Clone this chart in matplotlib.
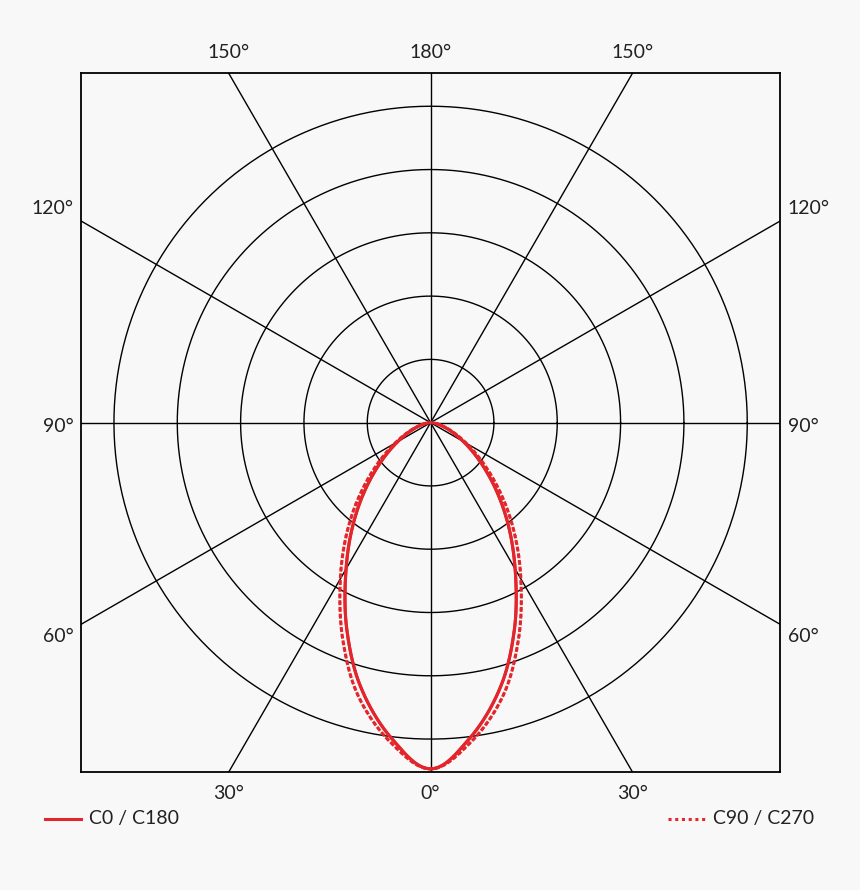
import numpy as np
import matplotlib.pyplot as plt

# gamma angle from nadir (deg) and intensity in ring units
gamma = [0, 7, 15, 22, 30, 40, 50, 60, 70, 80, 90]
c0_c180 = [5.47, 5.03, 4.3, 3.53, 2.67, 1.8, 1.1, 0.6, 0.28, 0.1, 0.0]
c90_c270 = [5.47, 5.1, 4.45, 3.7, 2.85, 1.95, 1.2, 0.65, 0.3, 0.1, 0.0]
rings = [1, 2, 3, 4, 5]
spokes = [0, 30, 60, 90, 120, 150]

BG = "#f8f8f8"
RED = "#e3262b"
LIM = 5.52

fig = plt.figure(figsize=(8.6, 8.9), dpi=100, facecolor=BG)
ax = fig.add_axes([0.0942, 0.1326, 0.813, 0.785])
ax.set_facecolor(BG)
ax.set_xlim(-LIM, LIM)
ax.set_ylim(-LIM, LIM)
ax.set_xticks([])
ax.set_yticks([])
for s in ax.spines.values():
    s.set_linewidth(1.3)
    s.set_color("black")

t = np.linspace(0, 2 * np.pi, 400)
for r in rings:
    ax.plot(r * np.cos(t), r * np.sin(t), color="black", lw=1.0)
for a in spokes:
    th = np.radians(a)
    L = 10
    ax.plot([-L * np.sin(th), L * np.sin(th)], [-L * np.cos(th), L * np.cos(th)],
            color="black", lw=1.0)


def smooth(gs, vs, n=20):
    # Catmull-Rom through the read points, symmetric about gamma 0
    g = np.concatenate([-np.array(gs[1:])[::-1], gs, [100.0]])
    v = np.concatenate([np.array(vs[1:])[::-1], vs, [0.0]])
    out_g, out_v = [], []
    for i in range(1, len(g) - 2):
        u = np.linspace(0, 1, n, endpoint=False)
        for arr, out in ((g, out_g), (v, out_v)):
            p0, p1, p2, p3 = arr[i - 1], arr[i], arr[i + 1], arr[i + 2]
            out.extend(0.5 * (2 * p1 + (-p0 + p2) * u
                              + (2 * p0 - 5 * p1 + 4 * p2 - p3) * u ** 2
                              + (-p0 + 3 * p1 - 3 * p2 + p3) * u ** 3))
    out_g.append(g[-2])
    out_v.append(v[-2])
    return np.array(out_g), np.clip(np.array(out_v), 0, None)


def curve(vals):
    gg, vv = smooth(gamma, vals)
    g = np.radians(gg)
    return vv * np.sin(g), -vv * np.cos(g)


x, y = curve(c90_c270)
ax.plot(x, y, color=RED, lw=2.2, ls=(0, (1, 1.2)))
ax.plot(-x, y, color=RED, lw=2.2, ls=(0, (1, 1.2)))
x, y = curve(c0_c180)
ax.plot(x, y, color=RED, lw=2.2)
ax.plot(-x, y, color=RED, lw=2.2)

fk = dict(fontsize=14, family="Lato", color="#222222")
# top and bottom labels
off = LIM * np.tan(np.radians(30))
for xv, txt in [(-off, "150°"), (0, "180°"), (off, "150°")]:
    ax.text(xv, LIM + 0.2, txt, ha="center", va="bottom", **fk)
for xv, txt in [(-off, "30°"), (0, "0°"), (off, "30°")]:
    ax.text(xv, -LIM - 0.2, txt, ha="center", va="top", **fk)
# side labels
for yv, txt in [(off + 0.19, "120°"), (-0.06, "90°"), (-off - 0.19, "60°")]:
    ax.text(-LIM - 0.12, yv, txt, ha="right", va="center", **fk)
    ax.text(LIM + 0.12, yv, txt, ha="left", va="center", **fk)

# legend
fig.lines.append(plt.Line2D([0.052, 0.094], [0.080, 0.080], color=RED, lw=2.2,
                            transform=fig.transFigure))
fig.text(0.104, 0.080, "C0 / C180", ha="left", va="center", **fk)
fig.lines.append(plt.Line2D([0.777, 0.820], [0.080, 0.080], color=RED, lw=2.2,
                            ls=(0, (1, 1.2)), transform=fig.transFigure))
fig.text(0.829, 0.080, "C90 / C270", ha="left", va="center", **fk)

fig.savefig("out.png", dpi=100, facecolor=BG)
